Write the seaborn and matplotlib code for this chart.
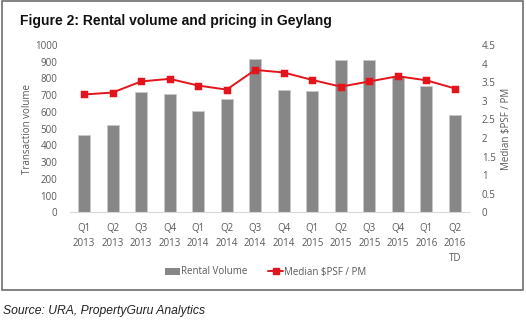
import matplotlib
matplotlib.use("Agg")
import matplotlib.pyplot as plt
import seaborn as sns
import pandas as pd
from matplotlib.patches import Rectangle, Patch
from matplotlib.lines import Line2D

quarters = ["Q1\n2013", "Q2\n2013", "Q3\n2013", "Q4\n2013", "Q1\n2014", "Q2\n2014",
            "Q3\n2014", "Q4\n2014", "Q1\n2015", "Q2\n2015", "Q3\n2015", "Q4\n2015",
            "Q1\n2016", "Q2\n2016\nTD"]
rental_volume = [465, 521, 722, 707, 607, 677, 918, 732, 728, 910, 910, 812, 756, 581]
median_psf = [3.17, 3.22, 3.52, 3.59, 3.41, 3.30, 3.83, 3.76, 3.56, 3.38, 3.52, 3.66, 3.55, 3.33]
left_ticks = [0, 100, 200, 300, 400, 500, 600, 700, 800, 900, 1000]
right_ticks = [0, 0.5, 1, 1.5, 2, 2.5, 3, 3.5, 4, 4.5]
right_labels = ["0", "0.5", "1", "1.5", "2", "2.5", "3", "3.5", "4", "4.5"]

df = pd.DataFrame({"quarter": quarters, "volume": rental_volume, "psf": median_psf})

sns.set_theme(style="white")
plt.rcParams["font.family"] = ["Open Sans", "DejaVu Sans"]

fig = plt.figure(figsize=(5.26, 3.28), dpi=100)
ax = fig.add_axes([0.1326, 0.3527, 0.7595, 0.5101])

bar_color = "#878787"
red = "#e3141b"
tick_color = "#595959"

sns.barplot(data=df, x="quarter", y="volume", ax=ax, color=bar_color, width=0.42,
            saturation=1, edgecolor="#c8c8c8", linewidth=0.6, zorder=2)
ax.set_ylim(0, 1000)
ax.set_xlim(-0.5, len(quarters) - 0.5)
ax.set_yticks(left_ticks)
ax.set_yticklabels([str(t) for t in left_ticks])
ax.set_xlabel("")
ax.set_ylabel("Transaction volume", fontsize=7, color=tick_color, labelpad=1)
ax.tick_params(axis="y", length=0, pad=9, labelsize=7, labelcolor=tick_color)
ax.tick_params(axis="x", length=0, pad=8, labelsize=7, labelcolor=tick_color)
for lbl in ax.get_xticklabels():
    lbl.set_linespacing(1.45)
for s in ["top", "left", "right"]:
    ax.spines[s].set_visible(False)
ax.spines["bottom"].set_color("#d9d9d9")
ax.spines["bottom"].set_linewidth(0.8)

ax2 = ax.twinx()
sns.pointplot(data=df, x="quarter", y="psf", ax=ax2, color=red, markers="s",
              markersize=5, linewidth=1.4, zorder=3)
ax2.set_ylim(0, 4.5)
ax2.set_xlim(-0.5, len(quarters) - 0.5)
ax2.set_yticks(right_ticks)
ax2.set_yticklabels(right_labels)
ax2.set_ylabel("Median $PSF / PM", fontsize=7, color=tick_color, labelpad=4)
ax2.tick_params(axis="y", length=0, pad=9, labelsize=7, labelcolor=tick_color)
for s in ["top", "left", "right", "bottom"]:
    ax2.spines[s].set_visible(False)
ax2.grid(False)
ax.grid(False)

handles = [Patch(facecolor=bar_color, edgecolor="none"),
           Line2D([0], [0], color=red, marker="s", markersize=4, linewidth=1.4)]
fig.legend(handles, ["Rental Volume", "Median $PSF / PM"], loc="center",
           bbox_to_anchor=(0.505, 1 - 272 / 328), ncol=2, frameon=False,
           fontsize=7, labelcolor=tick_color, handlelength=1.5, handletextpad=0.1,
           columnspacing=2.2, handleheight=0.7)

fig.text(20 / 526, 1 - 21 / 328, "Figure 2: Rental volume and pricing in Geylang",
         fontsize=10, fontweight="bold", family="Liberation Sans", va="center",
         color="#111111")
fig.text(3 / 526, 1 - 311 / 328, "Source: URA, PropertyGuru Analytics",
         fontsize=8.7, style="italic", family="Liberation Sans", va="center",
         color="#222222")

fig.patches.append(Rectangle((2 / 526, 1 - 290 / 328), 521 / 526, 289 / 328,
                             transform=fig.transFigure, fill=False,
                             edgecolor="#6e6e6e", linewidth=1.2))

fig.savefig("out.png", dpi=100)
